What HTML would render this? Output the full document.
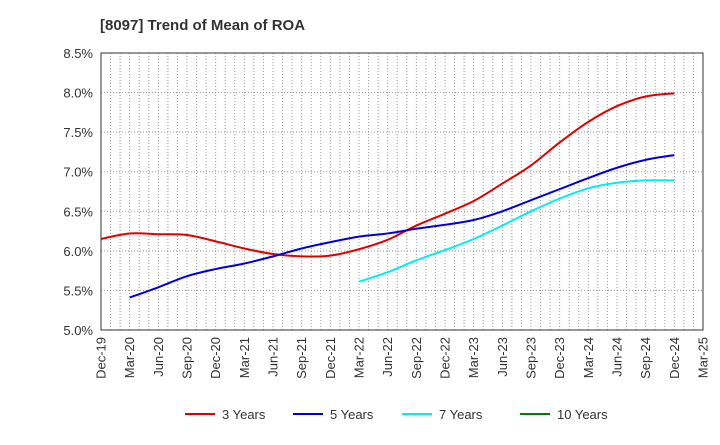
<!DOCTYPE html>
<html><head><meta charset="utf-8"><style>
body{margin:0;background:#fff;font-family:"Liberation Sans",Arial,sans-serif}
svg text{font-family:"Liberation Sans",Arial,sans-serif}
</style></head><body>
<svg id="c" width="720" height="440" xmlns="http://www.w3.org/2000/svg">
<text x="100" y="30" font-size="15" font-weight="bold" fill="#333">[8097]  Trend of Mean of ROA</text>
<g id="grid"></g><g id="axes"></g><g id="series"></g>
<g id="legend"></g>
</svg>
<script>
const xLabels=["Dec-19","Mar-20","Jun-20","Sep-20","Dec-20","Mar-21","Jun-21","Sep-21","Dec-21","Mar-22","Jun-22","Sep-22","Dec-22","Mar-23","Jun-23","Sep-23","Dec-23","Mar-24","Jun-24","Sep-24","Dec-24","Mar-25"];
const yTicks=[5.0,5.5,6.0,6.5,7.0,7.5,8.0,8.5];
const s3=[6.15,6.22,6.21,6.20,6.12,6.03,5.96,5.93,5.94,6.02,6.14,6.32,6.47,6.63,6.85,7.08,7.37,7.63,7.83,7.95,7.99];
const s5=[null,5.41,5.54,5.68,5.77,5.84,5.93,6.03,6.11,6.18,6.22,6.28,6.33,6.39,6.50,6.64,6.78,6.92,7.05,7.15,7.21];
const s7=[null,null,null,null,null,null,null,null,null,5.61,5.73,5.88,6.01,6.15,6.32,6.50,6.66,6.79,6.86,6.89,6.89];
const s10=[];
const L=101,R=703,T=53,B=330,yMin=5,yMax=8.5;
const ns="http://www.w3.org/2000/svg";
const X=i=>L+(R-L)*i/(xLabels.length-1);
const Y=v=>B-(v-yMin)/(yMax-yMin)*(B-T);
function mk(p,t,a){const e=document.createElementNS(ns,t);for(const k in a)e.setAttribute(k,a[k]);document.getElementById(p).appendChild(e);return e;}
const months=(xLabels.length-1)*3;
for(let m=1;m<months;m++){const x=L+(R-L)*m/months;
const e=mk('grid','line',{x1:x,x2:x,y1:T,y2:B,stroke:'#999','stroke-dasharray':'1,2','stroke-width':1});

}
yTicks.forEach(v=>{const y=Y(v);
const g=mk('grid','line',{x1:L,x2:R,y1:y,y2:y,stroke:'#999','stroke-dasharray':'1,2'});


const t=mk('axes','text',{x:L-8,y:y+5,'text-anchor':'end','font-size':13,fill:'#333'});t.textContent=v.toFixed(1)+'%';

});
const fr=mk('axes','rect',{x:L,y:T,width:R-L,height:B-T,fill:'none',stroke:'#333','stroke-width':1});


xLabels.forEach((l,i)=>{const x=X(i);
const t=mk('axes','text',{transform:`translate(${x+4.5},${B+7}) rotate(-90)`,'text-anchor':'end','font-size':13,fill:'#333'});t.textContent=l;

});
function path(arr){const p=[];arr.forEach((v,i)=>{if(v!=null)p.push([X(i),Y(v)]);});if(p.length<2)return'';
let d=`M${p[0][0]},${p[0][1]}`;
for(let i=0;i<p.length-1;i++){const p0=p[i-1]||p[i],p1=p[i],p2=p[i+1],p3=p[i+2]||p2;
d+=` C${p1[0]+(p2[0]-p0[0])/6},${p1[1]+(p2[1]-p0[1])/6} ${p2[0]-(p3[0]-p1[0])/6},${p2[1]-(p3[1]-p1[1])/6} ${p2[0]},${p2[1]}`;}
return d;}
const series=[[s3,'#e00000','3 Years','line-3-years'],[s5,'#0000dd','5 Years','line-5-years'],[s7,'#00eeee','7 Years','line-7-years'],[s10,'#008000','10 Years','line-10-years']];
series.forEach(([a,c,n,id])=>{const d=path(a);if(d){const e=mk('series','path',{d:d,fill:'none',stroke:c,'stroke-width':2});

}});
const lx=[185,293,402,520];
series.forEach(([a,c,n],i)=>{
const l=mk('legend','line',{x1:lx[i],x2:lx[i]+30,y1:414,y2:414,stroke:c,'stroke-width':2});


const t=mk('legend','text',{x:lx[i]+37,y:419,'font-size':13,fill:'#333'});t.textContent=n;

});
</script>
</body></html>
